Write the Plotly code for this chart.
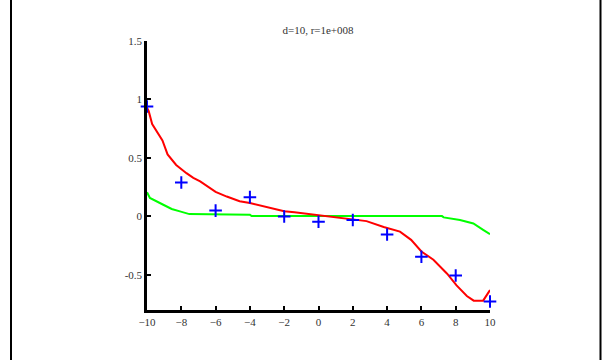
import plotly.graph_objects as go

# Data points (blue crosses)
pts_x = [-10, -8, -6, -4, -2, 0, 2, 4, 6, 8, 10]
pts_y = [0.94, 0.29, 0.05, 0.165, 0.0, -0.045, -0.03, -0.155, -0.345, -0.505, -0.727]

# Red curve
red_x = [-10, -9.9, -9.7, -9.3, -9.1, -8.8, -8.3, -7.7, -7.3, -6.9, -6.0, -5.35, -4.6, -4.0,
         -2.6, -2.0, -1.4, -0.5, 0.5, 1.5, 2.8, 3.8, 4.75, 5.4, 6.0, 6.7, 7.5, 8.05, 8.65,
         9.05, 9.6, 10]
red_y = [0.93, 0.90, 0.79, 0.70, 0.65, 0.53, 0.44, 0.37, 0.33, 0.30, 0.21, 0.17, 0.13, 0.115,
         0.07, 0.045, 0.035, 0.02, 0.0, -0.015, -0.04, -0.09, -0.13, -0.2, -0.3, -0.37, -0.49,
         -0.59, -0.68, -0.72, -0.72, -0.63]

# Green curve
green_x = [-10, -9.83, -9.05, -8.56, -8.08, -7.53, -4.0, -3.9, 7.2, 7.3, 8.25, 9.03, 9.6, 10]
green_y = [0.207, 0.158, 0.10, 0.064, 0.043, 0.02, 0.015, 0.003, 0.003, -0.008, -0.03, -0.06,
           -0.115, -0.152]

x_ticks = [-10, -8, -6, -4, -2, 0, 2, 4, 6, 8, 10]
y_ticks = [-0.5, 0, 0.5, 1, 1.5]
y_tick_text = ["-0.5", "0", "0.5", "1", "1.5"]

title_text = "d=10, r=1e+008"

fig = go.Figure()
fig.add_trace(go.Scatter(x=green_x, y=green_y, mode="lines",
                         line=dict(color="#00ff00", width=2), showlegend=False))
fig.add_trace(go.Scatter(x=red_x, y=red_y, mode="lines",
                         line=dict(color="#ff0000", width=2), showlegend=False))
fig.add_trace(go.Scatter(x=pts_x, y=pts_y, mode="markers",
                         marker=dict(symbol="cross-thin", size=9,
                                     line=dict(color="#0000ff", width=2)),
                         showlegend=False, cliponaxis=False))

L, R, T, B = 147, 112, 41, 50
W, H = 602, 360
pw, ph = W - L - R, H - T - B

def px_to_paper_x(px):
    return (px - L) / pw

def py_to_paper_y(py):
    return (H - B - py) / ph

font = dict(family="Liberation Serif", size=11, color="#333333")

fig.update_layout(
    width=W, height=H,
    margin=dict(l=L, r=R, t=T, b=B),
    paper_bgcolor="white", plot_bgcolor="white",
    font=font,
    title=dict(text=title_text, x=px_to_paper_x(318), xref="paper", xanchor="center",
               y=1 - 30 / H, yanchor="middle",
               font=dict(family="Liberation Serif", size=11, color="#333333")),
    xaxis=dict(range=[-10, 10], tickmode="array", tickvals=x_ticks,
               ticks="inside", ticklen=4, tickwidth=2, tickcolor="black",
               showline=True, linecolor="black", linewidth=2.5, mirror=False,
               showgrid=False, zeroline=False, tickfont=font),
    yaxis=dict(range=[-0.8, 1.5], tickmode="array", tickvals=y_ticks, ticktext=y_tick_text,
               ticks="inside", ticklen=4, tickwidth=2, tickcolor="black",
               showline=True, linecolor="black", linewidth=2.5, mirror=False,
               showgrid=False, zeroline=False, tickfont=font),
    shapes=[
        dict(type="line", xref="paper", yref="paper",
             x0=px_to_paper_x(11), x1=px_to_paper_x(11),
             y0=py_to_paper_y(0), y1=py_to_paper_y(360),
             line=dict(color="black", width=2)),
        dict(type="line", xref="paper", yref="paper",
             x0=px_to_paper_x(600.5), x1=px_to_paper_x(600.5),
             y0=py_to_paper_y(0), y1=py_to_paper_y(360),
             line=dict(color="black", width=2)),
    ],
)

fig.write_html("out.html", config={"displayModeBar": False},
               post_script="document.body.style.margin='0';document.body.style.overflow='hidden';")
